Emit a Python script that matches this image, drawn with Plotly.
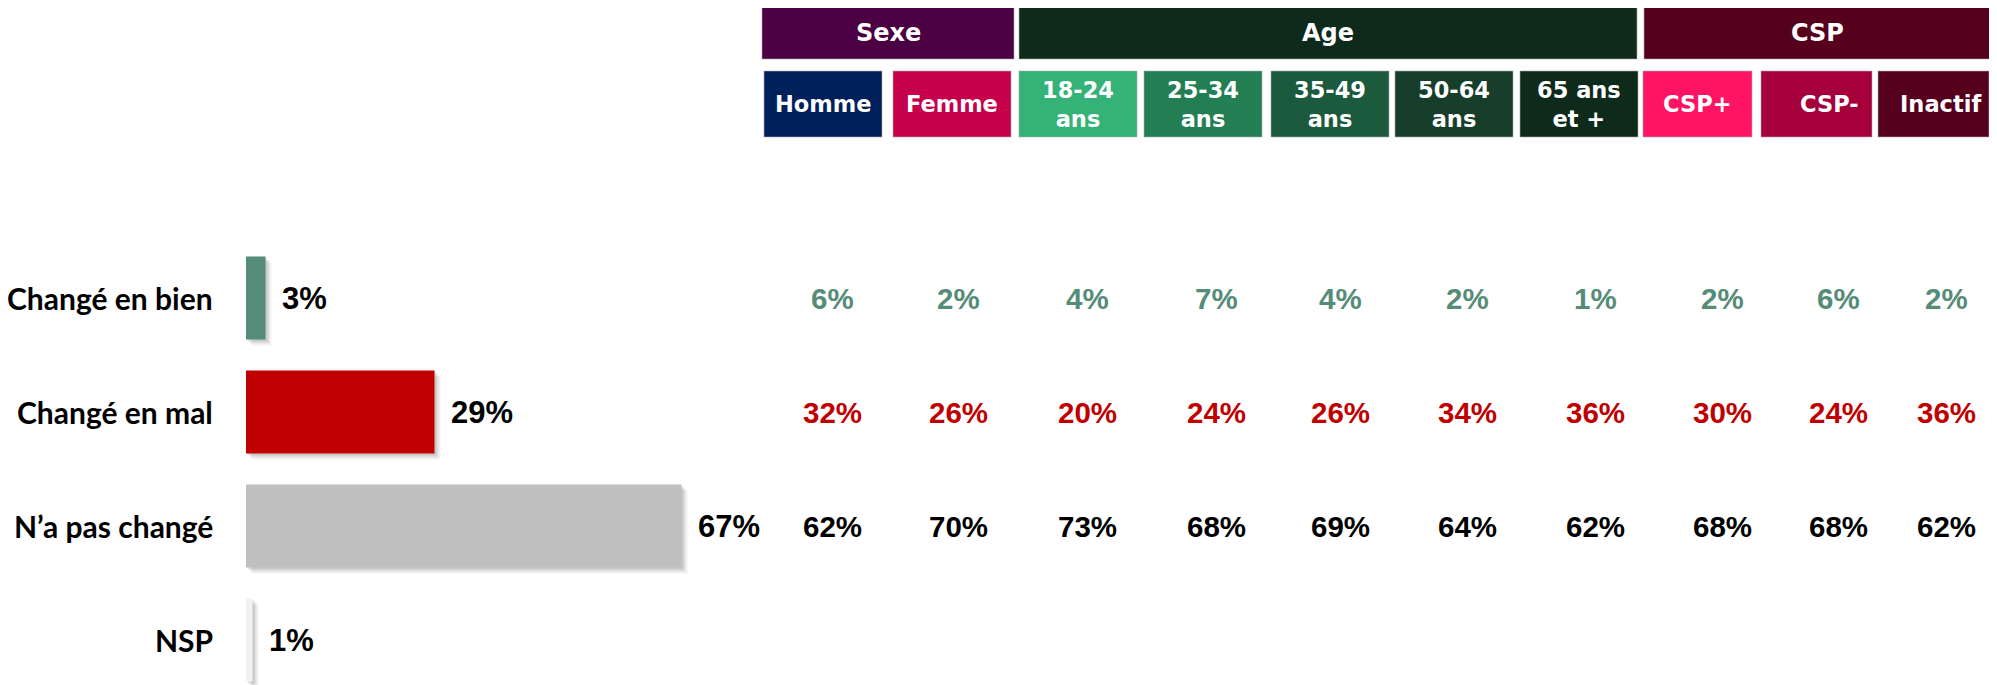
import plotly.graph_objects as go

# ---------------- data ----------------
categories = ["Changé en bien", "Changé en mal", "N’a pas changé", "NSP"]
total_values = [3, 29, 67, 1]
bar_colors = ["#548C78", "#C00000", "#BFBFBF", "#F2F2F2"]

group_labels = ["Sexe", "Age", "CSP"]
sub_labels = ["Homme", "Femme", "18-24<br>ans", "25-34<br>ans", "35-49<br>ans",
              "50-64<br>ans", "65 ans<br>et +", "CSP+", "CSP-", "Inactif"]

bien_values = [6, 2, 4, 7, 4, 2, 1, 2, 6, 2]
mal_values = [32, 26, 20, 24, 26, 34, 36, 30, 24, 36]
pas_change_values = [62, 70, 73, 68, 69, 64, 62, 68, 68, 62]
row_colors = ["#548C78", "#C00000", "#000000"]

# ---------------- layout helpers (pixels of the 1997x685 page) ----------------
PAGE_W, PAGE_H = 1997, 685
OFF = 8  # default body margin of the html page
W, H = PAGE_W - OFF, PAGE_H - OFF
group_colors = ["#4B0043", "#0E2A1B", "#56001E"]
group_x = [(762, 1014), (1019, 1637), (1644, 1990)]
group_y = (7, 59)
sub_colors = ["#00205B", "#C7004C", "#35B277", "#237E54", "#1B5A3C",
              "#163E2B", "#0E2A1B", "#FF1464", "#A6003A", "#56001E"]
sub_x = [(764, 882), (893, 1011), (1019, 1137), (1144, 1262), (1271, 1389),
         (1395, 1513), (1520, 1638), (1643, 1752), (1761, 1872), (1878, 1989)]
sub_text_x = [823, 952, 1078, 1203, 1330, 1454, 1579, 1697, 1829, 1940]
sub_y = (71, 137)
col_x = [832, 958, 1087, 1216, 1340, 1467, 1595, 1722, 1838, 1946]

px_per_unit = 6.5
x_origin = 246 - OFF
row_px = 114.0
row0_px = 298.0 - OFF
bar_w = 0.728

def px(x):
    return (x - OFF) / W

def py(y):
    return 1 - (y - OFF) / H

fig = go.Figure()

# soft drop shadow layers
for k, a in [(6, 0.05), (4, 0.08), (2, 0.10)]:
    fig.add_trace(go.Bar(
        y=categories, x=total_values, orientation="h",
        base=k / px_per_unit,
        width=bar_w, offset=-bar_w / 2 + k / row_px,
        marker=dict(color=f"rgba(0,0,0,{a})", line=dict(width=0)),
        hoverinfo="skip", showlegend=False,
    ))

fig.add_trace(go.Bar(
    y=categories, x=total_values, orientation="h",
    width=bar_w, offset=-bar_w / 2,
    marker=dict(color=bar_colors, line=dict(width=0)),
    hoverinfo="skip", showlegend=False,
))

annotations = []
# value labels next to bars
for c, v in zip(categories, total_values):
    annotations.append(dict(
        x=v, y=c, xref="x", yref="y", text=f"<b>{v}%</b>", showarrow=False,
        xanchor="left", yanchor="middle", xshift=14,
        font=dict(family="Liberation Sans, Arial", size=31, color="#000000"),
    ))
# category labels
for c in categories:
    annotations.append(dict(
        x=0, y=c, xref="x", yref="y", text=f"<b>{c}</b>", showarrow=False,
        xanchor="right", yanchor="middle", xshift=-31,
        font=dict(family="Lato, Calibri, sans-serif", size=30, color="#000000"),
    ))
# column values
rows = [bien_values, mal_values, pas_change_values]
for ri, (vals, col) in enumerate(zip(rows, row_colors)):
    for xi, v in zip(col_x, vals):
        annotations.append(dict(
            x=px(xi), y=categories[ri], xref="paper", yref="y",
            text=f"<b>{v}%</b>", showarrow=False,
            xanchor="center", yanchor="middle",
            font=dict(family="Liberation Sans, Arial", size=29.5, color=col),
        ))

shapes = []
# group headers
for lab, colr, (x0, x1) in zip(group_labels, group_colors, group_x):
    shapes.append(dict(type="rect", xref="paper", yref="paper",
                       x0=px(x0), x1=px(x1), y0=py(group_y[1]), y1=py(group_y[0]),
                       fillcolor=colr, line=dict(color="rgba(170,170,170,0.6)", width=1),
                       layer="above"))
    annotations.append(dict(
        x=px((x0 + x1) / 2), y=py((group_y[0] + group_y[1]) / 2),
        xref="paper", yref="paper", text=f"<b>{lab}</b>", showarrow=False,
        xanchor="center", yanchor="middle",
        font=dict(family="DejaVu Sans", size=24, color="#FFFFFF"),
    ))
# sub headers
for lab, colr, (x0, x1), tx in zip(sub_labels, sub_colors, sub_x, sub_text_x):
    shapes.append(dict(type="rect", xref="paper", yref="paper",
                       x0=px(x0), x1=px(x1), y0=py(sub_y[1]), y1=py(sub_y[0]),
                       fillcolor=colr, line=dict(color="rgba(170,170,170,0.6)", width=1),
                       layer="above"))
    annotations.append(dict(
        x=px(tx), y=py((sub_y[0] + sub_y[1]) / 2),
        xref="paper", yref="paper", text=f"<b>{lab}</b>", showarrow=False,
        xanchor="center", yanchor="middle",
        font=dict(family="DejaVu Sans", size=22.5, color="#FFFFFF"),
    ))

fig.update_layout(
    width=W, height=H,
    margin=dict(l=0, r=0, t=0, b=0),
    paper_bgcolor="#FFFFFF", plot_bgcolor="#FFFFFF",
    barmode="overlay",
    showlegend=False,
    xaxis=dict(range=[-x_origin / px_per_unit, (W - x_origin) / px_per_unit],
               visible=False, fixedrange=True),
    yaxis=dict(type="category", categoryorder="array", categoryarray=categories,
               range=[(H - row0_px) / row_px, -row0_px / row_px],
               visible=False, fixedrange=True),
    shapes=shapes,
    annotations=annotations,
)

fig.write_html("out.html")
